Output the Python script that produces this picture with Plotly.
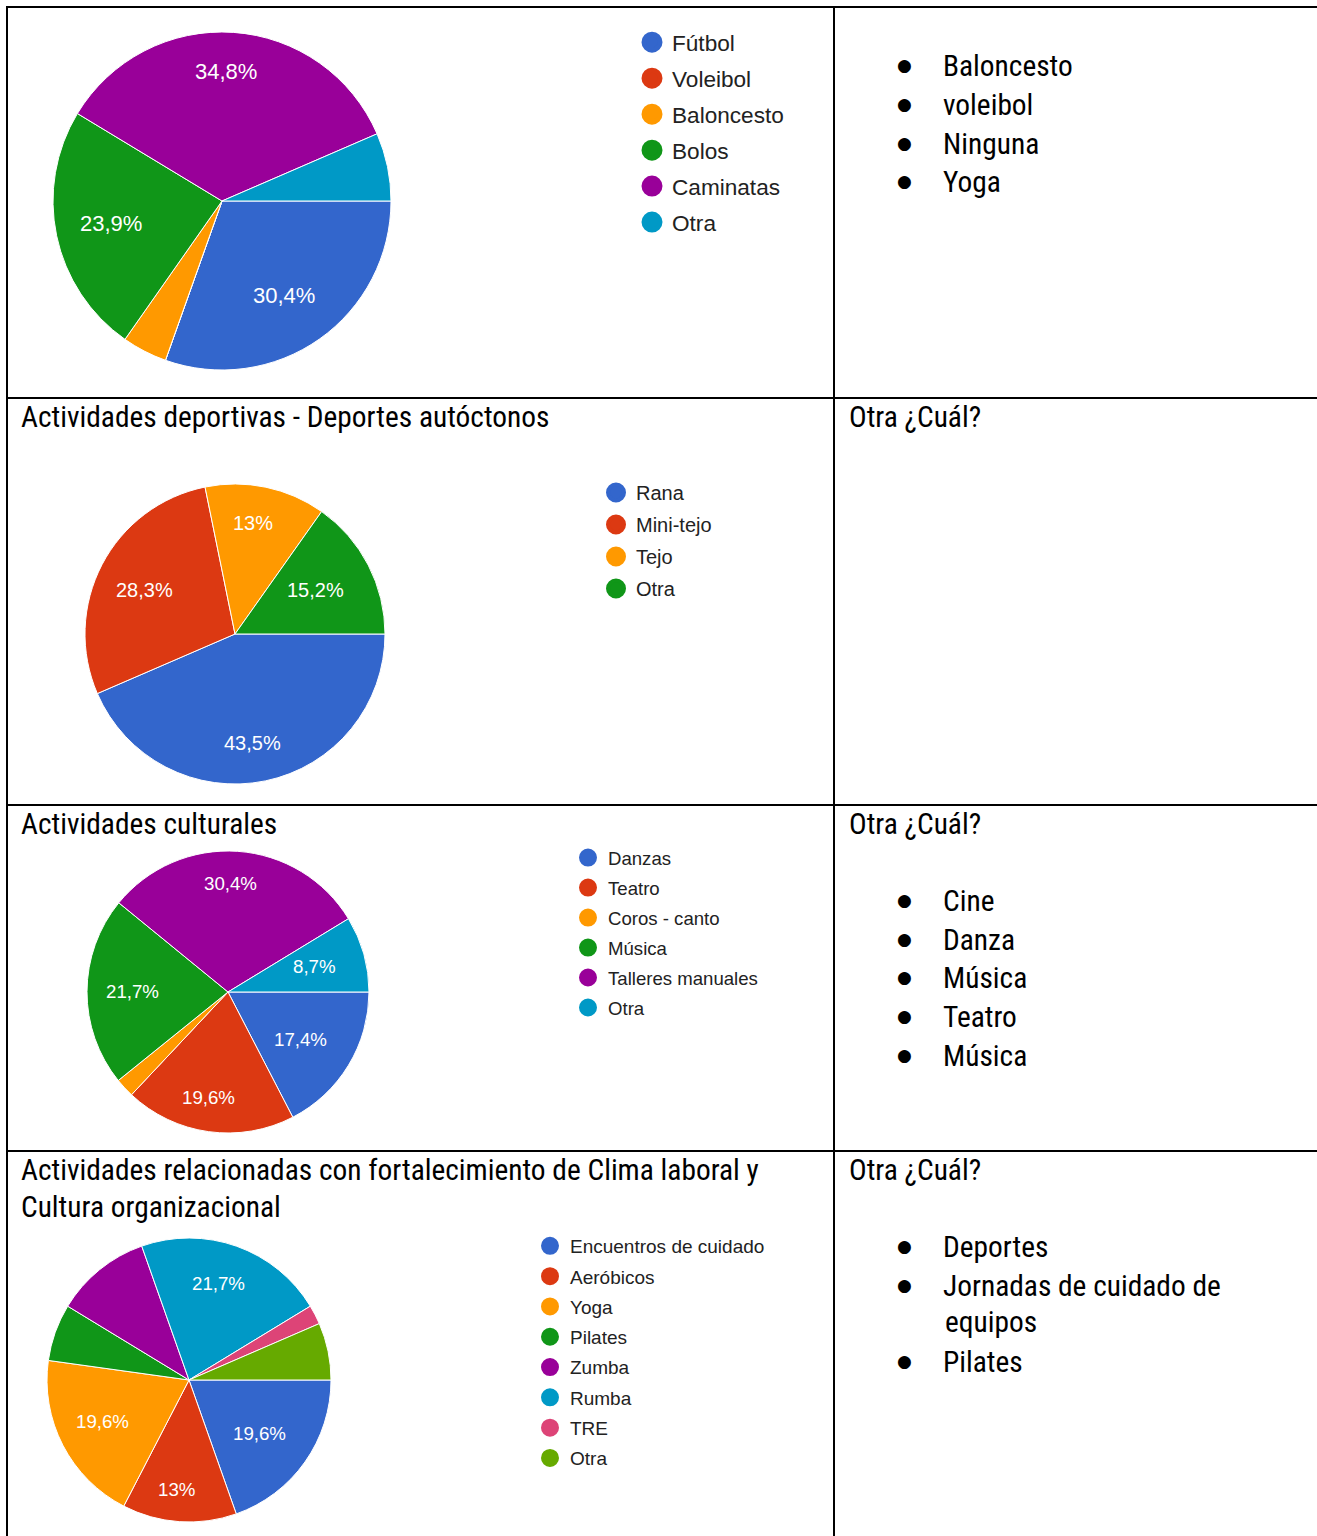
import math
import plotly.graph_objects as go

W, H = 1317, 1536

# ---------------- data ----------------
sport_labels = ["Fútbol", "Voleibol", "Baloncesto", "Bolos", "Caminatas", "Otra"]
sport_values = [30.4, 0, 4.3, 23.9, 34.8, 6.5]

native_labels = ["Rana", "Mini-tejo", "Tejo", "Otra"]
native_values = [43.5, 28.3, 13.0, 15.2]

culture_labels = ["Danzas", "Teatro", "Coros - canto", "Música", "Talleres manuales", "Otra"]
culture_values = [17.4, 19.6, 2.2, 21.7, 30.4, 8.7]

climate_labels = ["Encuentros de cuidado", "Aeróbicos", "Yoga", "Pilates", "Zumba", "Rumba", "TRE", "Otra"]
climate_values = [19.6, 13.0, 19.6, 6.5, 10.9, 21.7, 2.2, 6.5]

other_sport = ["Baloncesto", "voleibol", "Ninguna", "Yoga"]
other_culture = ["Cine", "Danza", "Música", "Teatro", "Música"]
other_climate = ["Deportes", "Jornadas de cuidado de", "equipos", "Pilates"]

headers_left = ["Actividades deportivas - Deportes autóctonos",
                "Actividades culturales",
                "Actividades relacionadas con fortalecimiento de Clima laboral y",
                "Cultura organizacional"]
header_right = "Otra ¿Cuál?"

# ---------------- style ----------------
COLORS = ["#3366cc", "#dc3912", "#ff9900", "#109618", "#990099", "#0099c6", "#dd4477", "#66aa00"]
SANS = "Liberation Sans, Arial, sans-serif"
CELL_FONT = "Roboto Condensed, Liberation Sans Narrow, Arial Narrow, sans-serif"
CELL_SIZE = 29.4
BULLET_FONT = "DejaVu Sans, sans-serif"
BULLET_SIZE = 17
LABEL_DX = -5


def X(px):
    return px / W


def Y(py):
    return 1 - py / H


def fmt_pct(v):
    s = f"{v:.1f}"
    if s.endswith(".0"):
        s = s[:-2]
    return s.replace(".", ",") + "%"


CHAR_W = {",": 0.278, "%": 0.889}


def text_width(s, size):
    return sum(CHAR_W.get(ch, 0.556) for ch in s) * size


charts = [
    dict(labels=sport_labels, values=sport_values, shown=[1, 0, 0, 1, 1, 0],
         box=(53, 391, 32, 370), tsize=22,
         leg=dict(x=632, y=21, size=22.6, gap=3.6, mline=5)),
    dict(labels=native_labels, values=native_values, shown=[1, 1, 1, 1],
         box=(85, 385, 484, 784), tsize=20,
         leg=dict(x=596, y=473, size=20, gap=3.0, mline=4)),
    dict(labels=culture_labels, values=culture_values, shown=[1, 1, 0, 1, 1, 1],
         box=(87, 369, 851, 1133), tsize=18.7,
         leg=dict(x=568, y=839, size=18.6, gap=2.8, mline=2)),
    dict(labels=climate_labels, values=climate_values, shown=[1, 1, 1, 0, 0, 1, 0, 0],
         box=(47, 331, 1238, 1522), tsize=18.7,
         leg=dict(x=530, y=1227, size=19, gap=2.6, mline=2)),
]

fig = go.Figure()
layout_legends = {}
annotations = []

for i, c in enumerate(charts, start=1):
    x0, x1, y0, y1 = c["box"]
    n = len(c["labels"])
    fig.add_trace(go.Pie(
        labels=c["labels"], values=c["values"],
        textinfo="none",
        marker=dict(colors=COLORS[:n], line=dict(color="white", width=1)),
        sort=False, direction="clockwise", rotation=90,
        domain=dict(x=[X(x0), X(x1)], y=[Y(y1), Y(y0)]),
        showlegend=False, hoverinfo="label+percent",
    ))
    # slice labels placed Google-style: text box kept inside ~0.83 r along mid-angle
    cx, cy, r = (x0 + x1) / 2, (y0 + y1) / 2, (x1 - x0) / 2
    total = sum(c["values"])
    cum = 0.0
    for v, shown in zip(c["values"], c["shown"]):
        theta = 2 * math.pi * (cum + v / 2) / total
        cum += v
        if not shown:
            continue
        s = fmt_pct(v)
        hw = text_width(s, c["tsize"]) / 2
        hh = 0.36 * c["tsize"]
        d = 0.83 * r - (hw * abs(math.cos(theta)) + hh * abs(math.sin(theta)))
        annotations.append(dict(
            text=s, x=X(cx + d * math.cos(theta) + LABEL_DX), y=Y(cy + d * math.sin(theta)),
            xref="paper", yref="paper", xanchor="center", yanchor="middle",
            showarrow=False, font=dict(family=SANS, size=c["tsize"], color="white")))
    lname = "legend" if i == 1 else f"legend{i}"
    for j, lab in enumerate(c["labels"]):
        fig.add_trace(go.Scatter(
            x=[None], y=[None], mode="markers", name=lab,
            marker=dict(color=COLORS[j], size=16, symbol="circle",
                        line=dict(color=COLORS[j], width=c["leg"]["mline"])),
            legend=lname, legendgroup=f"g{i}_{j}", showlegend=True,
        ))
    L = c["leg"]
    layout_legends[lname] = dict(
        x=X(L["x"]), y=Y(L["y"]), xanchor="left", yanchor="top",
        bgcolor="rgba(0,0,0,0)", borderwidth=0,
        font=dict(family=SANS, size=L["size"], color="#222222"),
        tracegroupgap=L["gap"], orientation="v",
    )

# ---------------- table lines ----------------
shapes = []
line_style = dict(color="black", width=2)
for py in [7, 398, 805, 1151]:
    shapes.append(dict(type="line", xref="paper", yref="paper",
                       x0=X(6), x1=X(1317), y0=Y(py), y1=Y(py), line=line_style))
for px in [7, 834]:
    shapes.append(dict(type="line", xref="paper", yref="paper",
                       x0=X(px), x1=X(px), y0=Y(6), y1=Y(1536), line=line_style))


# ---------------- text ----------------
def txt(s, px, py, size=CELL_SIZE, family=CELL_FONT, anchor="left"):
    annotations.append(dict(text=s, x=X(px), y=Y(py), xref="paper", yref="paper",
                            xanchor=anchor, yanchor="middle", showarrow=False,
                            font=dict(family=family, size=size, color="black")))


def bullet(py):
    txt("●", 904, py - 1, size=BULLET_SIZE, family=BULLET_FONT, anchor="center")


header_pos = [(19, 417), (19, 824), (19, 1170), (19, 1207)]
for s, (px, py) in zip(headers_left, header_pos):
    txt(s, px, py)
for py in [417, 824, 1170]:
    txt(header_right, 847, py)

ITEM_X = 941
for s, py in zip(other_sport, [66, 105, 144, 182]):
    bullet(py)
    txt(s, ITEM_X, py)
for s, py in zip(other_culture, [901, 940, 978, 1017, 1056]):
    bullet(py)
    txt(s, ITEM_X, py)
for k, (s, py) in enumerate(zip(other_climate, [1247, 1286, 1322, 1362])):
    if k != 2:
        bullet(py)
        txt(s, ITEM_X, py)
    else:
        txt(s, ITEM_X + 2, py)

fig.update_layout(
    width=W, height=H, margin=dict(l=0, r=0, t=0, b=0),
    paper_bgcolor="white", plot_bgcolor="rgba(0,0,0,0)",
    xaxis=dict(visible=False), yaxis=dict(visible=False),
    shapes=shapes, annotations=annotations,
    **layout_legends,
)

fig.write_html("out.html", config={"displayModeBar": False},
               post_script="document.body.style.margin='0';")
